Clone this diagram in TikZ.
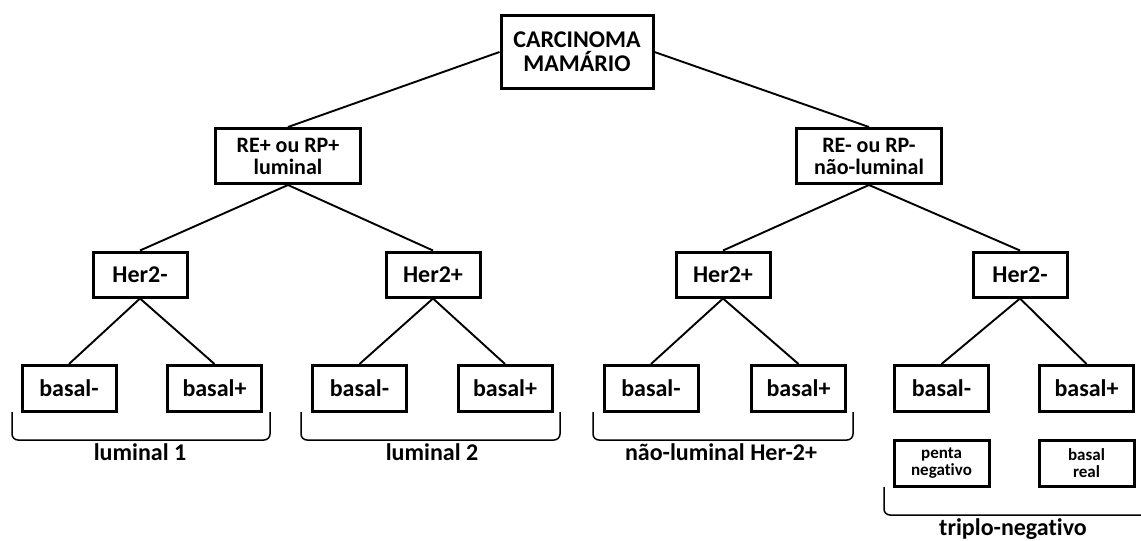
\documentclass[tikz,border=0pt]{standalone}
\usepackage{fontspec}
\setmainfont{Carlito}[Ligatures={NoCommon}]
\usetikzlibrary{positioning}
\tikzset{box/.style={draw,line width=3pt,align=center,inner sep=2pt,font=\fontsize{24}{24}\selectfont\bfseries},
  lvl/.style={box,minimum width=94pt,minimum height=45pt},
  mid/.style={box,minimum width=145pt,minimum height=55pt,font=\fontsize{22}{22}\selectfont\bfseries},
  small/.style={box,minimum width=95pt,minimum height=46pt,font=\fontsize{17}{17}\selectfont\bfseries},
  link/.style={line width=1.9pt},
  brk/.style={line width=1.5pt,rounded corners=6pt},
  grp/.style={anchor=base,font=\fontsize{24}{24}\selectfont\bfseries}}

\begin{document}
\begin{tikzpicture}[x=1pt,y=-1pt]
\clip (0,0) rectangle (1141,541);
% tree
\node[box,minimum width=152pt,minimum height=73pt] (root) at (577,52) {CARCINOMA\\MAMÁRIO};
\node[mid] (lum) at (288,156) {RE+ ou RP+\\luminal};
\node[mid] (nlum) at (869,156) {RE- ou RP-\\não-luminal};
\node[lvl] (ha) at (140,274.5) {Her2-};
\node[lvl] (hb) at (433,274.5) {Her2+};
\node[lvl] (hc) at (723,274.5) {Her2+};
\node[lvl] (hd) at (1020,274.5) {Her2-};
\node[lvl,minimum height=46pt] (ba1) at (69,388.5) {basal-};
\node[lvl,minimum height=46pt] (ba2) at (214.5,388.5) {basal+};
\node[lvl,minimum height=46pt] (bb1) at (359.5,388.5) {basal-};
\node[lvl,minimum height=46pt] (bb2) at (505,388.5) {basal+};
\node[lvl,minimum height=46pt] (bc1) at (651,388.5) {basal-};
\node[lvl,minimum height=46pt] (bc2) at (798.5,388.5) {basal+};
\node[lvl,minimum height=46pt] (bd1) at (941.5,388.5) {basal-};
\node[lvl,minimum height=46pt] (bd2) at (1086.5,388.5) {basal+};
\node[small] (penta) at (941.5,463.5) {penta\\negativo};
\node[small] (real) at (1086.5,463.5) {basal\\real};

\draw[link] (root.west) -- (lum.north);
\draw[link] (root.east) -- (nlum.north);
\draw[link] (lum.south) -- (ha.north);
\draw[link] (lum.south) -- (hb.north);
\draw[link] (nlum.south) -- (hc.north);
\draw[link] (nlum.south) -- (hd.north);
\foreach \p/\a/\b in {ha/ba1/ba2,hb/bb1/bb2,hc/bc1/bc2,hd/bd1/bd2}{
  \draw[link] (\p.south) -- (\a.north);
  \draw[link] (\p.south) -- (\b.north);
}

% groups
\draw[brk] (12,412) -- (12,440) -- (270,440) -- (270,412);
\node[grp] (g1) at (140,460) {luminal 1};
\draw[brk] (301,412) -- (301,440) -- (560,440) -- (560,412);
\node[grp] (g2) at (432,460) {luminal 2};
\draw[brk] (593,412) -- (593,440) -- (853,440) -- (853,412);
\node[grp] (g3) at (721,460) {não-luminal Her-2+};
\draw[brk] (884,487) -- (884,515) -- (1160,515) -- (1160,487);
\node[grp] (g4) at (1013,535) {triplo-negativo};
\end{tikzpicture}
\end{document}
